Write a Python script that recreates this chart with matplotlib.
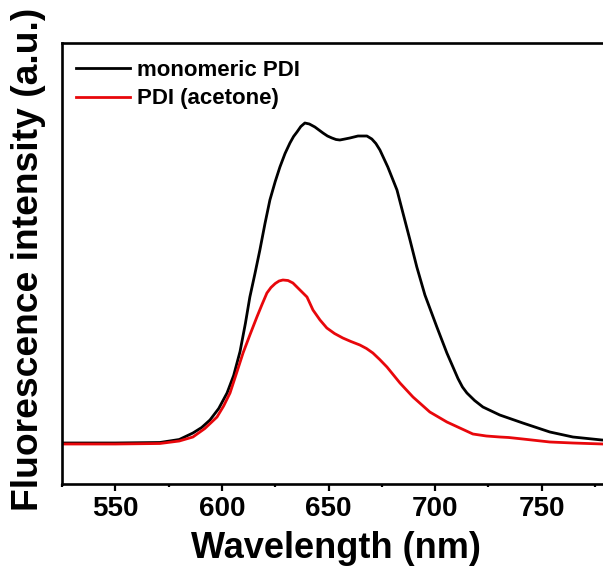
import matplotlib
matplotlib.use("Agg")
import matplotlib.pyplot as plt
from matplotlib.ticker import MultipleLocator

# Emission spectra (wavelength in nm, intensity in a.u.)
mono_wl = [525, 550, 570.9, 580, 586.4, 590.5, 594.4, 598.5, 602.4, 605.5,
           608.5, 611.0, 613.1, 615.5, 617.8, 620.2, 622.5, 625.0, 627.2, 629.6,
           631.9, 633.6, 635.2, 637.0, 638.9, 641.0, 643.6, 645.5, 647.4, 649.5,
           651.6, 653.5, 655.3, 657.7, 660.0, 663.8, 668.0, 670.3, 672.2, 674.1,
           677.8, 682.1, 684.9, 688.2, 691.4, 695.2, 700.8, 705.5, 710.7, 712.8,
           714.9, 718.5, 722.4, 730.3, 741.1, 753.8, 764.6, 778.2, 782]
mono_int = [405, 405, 410, 440, 505, 560, 635, 750, 905, 1080,
            1320, 1600, 1865, 2100, 2335, 2600, 2835, 3020, 3165, 3300,
            3405, 3470, 3515, 3570, 3605, 3595, 3565, 3535, 3505, 3475,
            3455, 3440, 3435, 3445, 3455, 3475, 3475, 3445, 3400, 3335,
            3165, 2935, 2705, 2435, 2165, 1885, 1565, 1305, 1050, 965,
            905, 830, 765, 685, 605, 515, 465, 435, 430]

acet_wl = [525, 550, 570.9, 580, 586.4, 592.0, 597.7, 600.8, 603.8, 606.8,
           609.9, 613.2, 616.4, 618.8, 621.1, 623.0, 625.0, 626.8, 628.6, 631.0,
           633.3, 636.6, 639.9, 642.7, 646.0, 649.2, 652.8, 656.7, 660.5, 664.7,
           667.8, 670.8, 674.0, 677.4, 683.5, 689.6, 697.5, 705.5, 711.6, 717.7,
           724.0, 730.3, 734.5, 741.1, 753.8, 764.6, 778.6, 782]
acet_int = [395, 395, 400, 425, 465, 550, 665, 775, 905, 1100,
            1305, 1490, 1665, 1790, 1905, 1960, 2000, 2025, 2035, 2030,
            2005, 1935, 1865, 1735, 1635, 1555, 1500, 1455, 1420, 1385,
            1350, 1305, 1240, 1165, 1005, 865, 715, 615, 555, 495,
            475, 465, 460, 445, 415, 405, 395, 393]

labels = ["monomeric PDI", "PDI (acetone)"]
colors = ["#000000", "#e8070b"]

xticks_major = [550, 600, 650, 700, 750]

plt.rcParams["font.family"] = ["Liberation Sans", "DejaVu Sans"]
plt.rcParams["font.weight"] = "bold"

W, H = 603, 566
fig = plt.figure(figsize=(W / 100, H / 100), dpi=100)
ax = fig.add_axes([62 / W, (566 - 483.5) / H, 548 / W, 440.5 / H])

ax.plot(mono_wl, mono_int, color=colors[0], lw=2.0, label=labels[0])
ax.plot(acet_wl, acet_int, color=colors[1], lw=2.0, label=labels[1])

ax.set_xlim(525, 782)
ax.set_ylim(0, 4405)

ax.set_xticks(xticks_major)
ax.xaxis.set_minor_locator(MultipleLocator(25))
ax.tick_params(axis="x", which="major", direction="out", length=5, width=1.6,
               labelsize=20, pad=4)
ax.tick_params(axis="x", which="minor", direction="out", length=2.5, width=1.6)
ax.tick_params(axis="y", which="both", left=False, labelleft=False)
for lbl in ax.get_xticklabels():
    lbl.set_fontweight("bold")

for sp in ax.spines.values():
    sp.set_linewidth(1.9)

ax.set_xlabel("Wavelength (nm)", fontsize=26, fontweight="bold", labelpad=6.5)
ax.set_ylabel("Fluorescence intensity (a.u.)", fontsize=26.8, fontweight="bold")
ax.yaxis.set_label_coords(-0.03, 0.509)

leg = ax.legend(loc="upper left", bbox_to_anchor=(14 / 548, 1 - 17 / 440.5),
                frameon=False, borderpad=0, borderaxespad=0,
                handlelength=2.43, handletextpad=0.3, labelspacing=0.33,
                prop={"weight": "bold", "size": 16})
for line in leg.get_lines():
    line.set_linewidth(2.0)

fig.savefig("out.png", dpi=100)
